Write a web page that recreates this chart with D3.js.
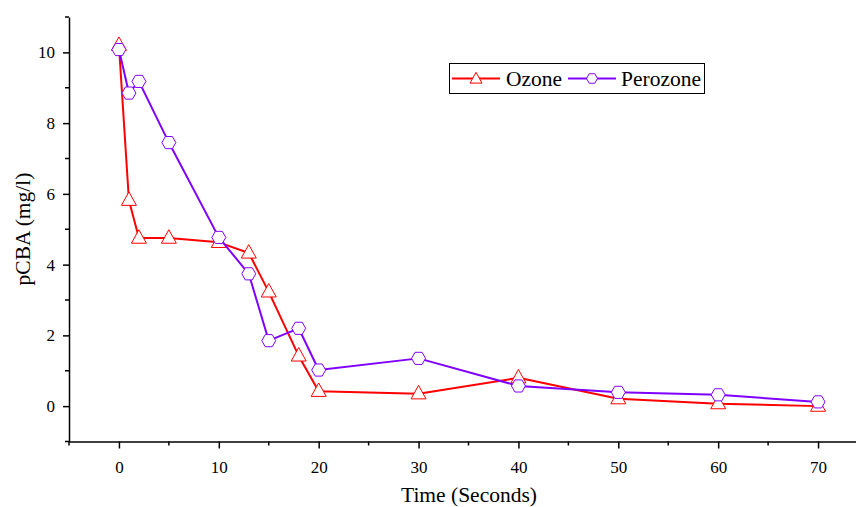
<!DOCTYPE html>
<html><head><meta charset="utf-8">
<script src="https://cdn.jsdelivr.net/npm/d3@7"></script>
<style>body{margin:0;background:#fff}svg{display:block}text{font-family:"Liberation Serif","Times New Roman",serif;fill:#000}</style>
</head><body><svg id="c" width="856" height="507"></svg>
<script>
const time = [0, 1, 2, 5, 10, 13, 15, 18, 20, 30, 40, 50, 60, 70];
const ozone = [10.2, 5.82, 4.75, 4.75, 4.63, 4.33, 3.23, 1.42, 0.42, 0.35, 0.8, 0.21, 0.07, 0.0];
const perozone = [10.08, 8.85, 9.18, 7.45, 4.77, 3.74, 1.85, 2.2, 1.02, 1.35, 0.57, 0.39, 0.32, 0.12];
const xTicks = [0, 10, 20, 30, 40, 50, 60, 70];
const yTicks = [0, 2, 4, 6, 8, 10];
const seriesNames = ["Ozone", "Perozone"];
const colors = ["#ff0000", "#8000ff"];

const svg = d3.select("#c");
const x = d3.scaleLinear().domain([-5, 73.8]).range([69, 856]);
const y = d3.scaleLinear().domain([-1, 11]).range([441.5, 17]);
const FONT = "Liberation Serif";

// axes
const xAxis = d3.axisBottom(x).tickValues(xTicks).tickSize(7).tickSizeOuter(0).tickPadding(12);
const gx = svg.append("g").attr("transform", `translate(0,${y(-1)})`).call(xAxis);
gx.attr("font-family", FONT);
gx.select(".domain").attr("stroke-width", 1.5);
gx.selectAll(".tick line").attr("stroke-width", 1.5);
gx.selectAll(".tick text").style("font-size", "17px").style("font-family", FONT);
const xMinor = d3.range(-5, 74, 10);
gx.selectAll(".minor").data(xMinor).enter().append("line").attr("class","minor")
  .attr("x1", d => x(d)).attr("x2", d => x(d)).attr("y1", 0).attr("y2", 4)
  .attr("stroke", "#000").attr("stroke-width", 1.5);

const yAxis = d3.axisLeft(y).tickValues(yTicks).tickSize(6).tickSizeOuter(0).tickPadding(8);
const gy = svg.append("g").attr("transform", `translate(${x(-5)},0)`).call(yAxis);
gy.attr("font-family", FONT);
gy.select(".domain").attr("stroke-width", 1.5);
gy.selectAll(".tick line").attr("stroke-width", 1.5);
gy.selectAll(".tick text").style("font-size", "17px").style("font-family", FONT);
const yMinor = [-1, 1, 3, 5, 7, 9, 11];
gy.selectAll(".minor").data(yMinor).enter().append("line").attr("class","minor")
  .attr("x1", 0).attr("x2", -4).attr("y1", d => y(d)).attr("y2", d => y(d))
  .attr("stroke", "#000").attr("stroke-width", 1.5);

// titles
svg.append("text").attr("x", 469).attr("y", 502).attr("text-anchor", "middle")
  .style("font-size", "21.5px").text("Time (Seconds)");
svg.append("text").attr("transform", "translate(30,229) rotate(-90)").attr("text-anchor", "middle")
  .style("font-size", "21.5px").text("pCBA (mg/l)");

// markers
function triPath(s) {
  const h = s * 0.9;
  return `M0,${-h*0.62}L${s/2},${h*0.38}L${-s/2},${h*0.38}Z`;
}
function hexPath(r) {
  const pts = d3.range(6).map(i => { const a = Math.PI / 3 * i; return [r * Math.cos(a), r * Math.sin(a)]; });
  return "M" + pts.map(p => p.join(",")).join("L") + "Z";
}
const markers = [triPath(15), hexPath(7)];

const line = d3.line().x(d => x(d[0])).y(d => y(d[1]));
[ozone, perozone].forEach((vals, i) => {
  const data = time.map((t, j) => [t, vals[j]]);
  svg.append("path").datum(data).attr("d", line).attr("fill", "none")
    .attr("stroke", colors[i]).attr("stroke-width", 2).attr("stroke-linejoin", "round");
  svg.append("g").selectAll("path").data(data).enter().append("path")
    .attr("transform", d => `translate(${x(d[0])},${y(d[1])})`)
    .attr("d", markers[i]).attr("fill", "#fff").attr("stroke", colors[i]).attr("stroke-width", 1);
});

// legend
const lg = svg.append("g");
lg.append("rect").attr("x", 449.5).attr("y", 63.5).attr("width", 255).attr("height", 30)
  .attr("fill", "#fff").attr("stroke", "#000").attr("stroke-width", 1);
const legendItems = [{x1: 452, x2: 500, tx: 506}, {x1: 568, x2: 616, tx: 621}];
legendItems.forEach((it, i) => {
  lg.append("line").attr("x1", it.x1).attr("x2", it.x2).attr("y1", 78.5).attr("y2", 78.5)
    .attr("stroke", colors[i]).attr("stroke-width", 2);
  lg.append("path").attr("transform", `translate(${(it.x1 + it.x2) / 2},${i === 0 ? 79 : 78.5})`)
    .attr("d", i === 0 ? triPath(12) : hexPath(5.5)).attr("fill", "#fff").attr("stroke", colors[i]).attr("stroke-width", 1);
  lg.append("text").attr("x", it.tx).attr("y", 86).style("font-size", "21.5px").text(seriesNames[i]);
});
</script></body></html>
